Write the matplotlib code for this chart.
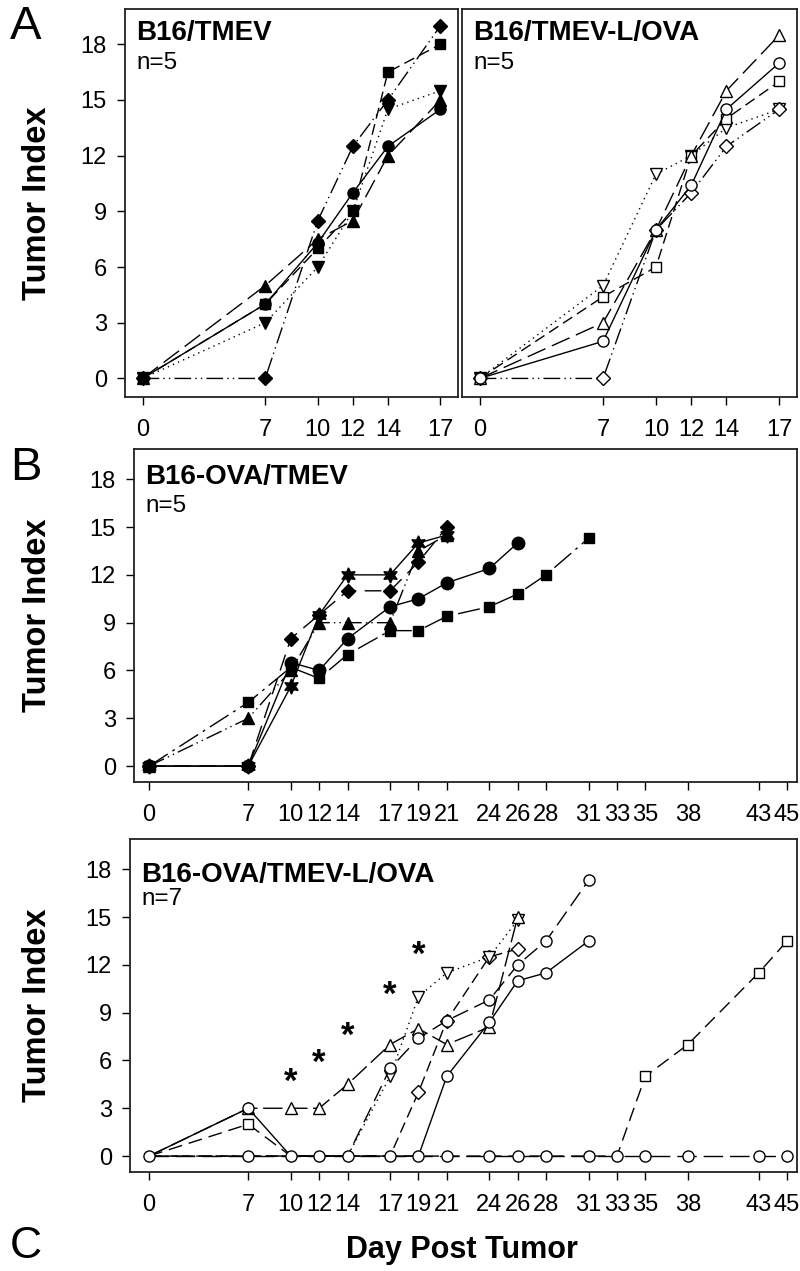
import matplotlib
matplotlib.use("Agg")
import matplotlib.pyplot as plt

plt.rcParams['font.family'] = ['Liberation Sans', 'DejaVu Sans']

# ---- data ----
days_a = [0, 7, 10, 12, 14, 17]
days_long = [0, 7, 10, 12, 14, 17, 19, 21, 24, 26, 28, 31, 33, 35, 38, 43, 45]
y_ticks = [0, 3, 6, 9, 12, 15, 18]

# A, B16/TMEV (filled symbols)
a_circle = [0, 4, 7.3, 10, 12.5, 14.5]
a_square = [0, 4, 7, 9, 16.5, 18]
a_diamond = [0, 0, 8.5, 12.5, 15, 19]
a_tri_up = [0, 5, 7.5, 8.5, 12, 15]
a_tri_down = [0, 3, 6, 9, 14.5, 15.5]

# A, B16/TMEV-L/OVA (open symbols)
r_circle = [0, 2, 8, 10.4, 14.5, 17]
r_square = [0, 4.4, 6, 12, 14, 16]
r_diamond = [0, 0, 8, 10, 12.5, 14.5]
r_tri_up = [0, 3, 8, 12, 15.5, 18.5]
r_tri_down = [0, 5, 11, 12, 13.5, 14.5]

# B, B16-OVA/TMEV (filled symbols)
b_square = [0, 4, 6.2, 5.5, 7, 8.5, 8.5, 9.4, 10, 10.8, 12, 14.3]
b_circle = [0, 0, 6.5, 6, 8, 10, 10.5, 11.5, 12.4, 14]
b_star = [0, 0, 5, 9.5, 12, 12, 14, 14.5]
b_triangle = [0, 3, 6, 9, 9, 9, 13.5, 14.5]
b_diamond = [0, 0, 8, 9.5, 11, 11, 12.8, 15]

# C, B16-OVA/TMEV-L/OVA (open symbols)
c_circle_flat = [0, 0, 0, 0, 0, 0, 0, 0, 0, 0, 0, 0, 0, 0, 0, 0, 0]
c_square = [0, 2, 0, 0, 0, 0, 0, 0, 0, 0, 0, 0, 0, 5, 7, 11.5, 13.5]
c_circle_a = [0, 3, 0, 0, 0, 0, 0, 5, 8.4, 11, 11.5, 13.5]
c_circle_b = [0, 0, 0, 0, 0, 5.5, 7.4, 8.5, 9.8, 12, 13.5, 17.3]
c_tri_up = [0, 3, 3, 3, 4.5, 7, 8, 7, 8.1, 15]
c_tri_down = [0, 0, 0, 0, 0, 5, 10, 11.5, 12.5, 14.8]
c_diamond = [0, 0, 0, 0, 0, 0, 4, 8.5, 12.5, 13]
star_days = [10, 12, 14, 17, 19]
star_y = [4.9, 6.1, 7.8, 10.4, 12.9]

# ---- layout ----
W, H = 800, 1271
fig = plt.figure(figsize=(W / 100, H / 100), dpi=100)


def px_axes(x0, y0, x1, y1):
    return fig.add_axes([x0 / W, 1 - y1 / H, (x1 - x0) / W, (y1 - y0) / H])


LONG = (0, (14, 5))
MED = (0, (8, 4))
DOT = (0, (1, 3))
DDOT = (0, (12, 3, 1, 3, 1, 3))
DDASH = (0, (16, 4, 2, 4))


def series(ax, days, vals, marker, ls, filled, ms=8, z=3, hide_zeros=False):
    every = None
    if hide_zeros:
        # zero points sit under the flat-line circles, keep only the rising ones
        every = [i for i, v in enumerate(vals) if v > 0]
    ax.plot(days[:len(vals)], vals, ls=ls, lw=1.0, color='black', marker=marker,
            ms=ms, mfc='black' if filled else 'white', mec='black', mew=1.0,
            zorder=z, clip_on=False, markevery=every)


def style(ax, xt, xlim, ylabels=True):
    ax.set_xlim(*xlim)
    ax.set_ylim(-1, 19.9)
    ax.set_xticks(xt)
    ax.set_yticks(y_ticks)
    ax.tick_params(axis='x', direction='out', length=6, width=1, labelsize=17, pad=10)
    ax.tick_params(axis='y', direction='out', length=6, width=1, labelsize=17, pad=7)
    if not ylabels:
        ax.tick_params(axis='y', left=False, labelleft=False)
    for s in ax.spines.values():
        s.set_linewidth(1.3)
        s.set_color('#222222')


def label(ax, title, n, t_off=-20, n_off=-41):
    ax.annotate(title, xy=(0, 1), xycoords='axes fraction', xytext=(8, t_off),
                textcoords='offset points', ha='left', va='center',
                fontsize=20, weight='bold')
    ax.annotate(n, xy=(0, 1), xycoords='axes fraction', xytext=(8, n_off),
                textcoords='offset points', ha='left', va='center', fontsize=17.5)


# Panel A left
ax1 = px_axes(125, 9, 458, 397)
series(ax1, days_a, a_tri_down, 'v', DOT, True)
series(ax1, days_a, a_tri_up, '^', LONG, True)
series(ax1, days_a, a_diamond, 'D', DDOT, True, ms=7)
series(ax1, days_a, a_square, 's', MED, True, ms=7)
series(ax1, days_a, a_circle, 'o', '-', True)
style(ax1, days_a, (-1, 18))
label(ax1, 'B16/TMEV', 'n=5', -17, -39)

# Panel A right
ax2 = px_axes(462, 9, 797, 397)
series(ax2, days_a, r_tri_down, 'v', DOT, False)
series(ax2, days_a, r_diamond, 'D', DDOT, False, ms=7)
series(ax2, days_a, r_square, 's', MED, False, ms=7)
series(ax2, days_a, r_tri_up, '^', LONG, False)
series(ax2, days_a, r_circle, 'o', '-', False)
style(ax2, days_a, (-1, 18), ylabels=False)
label(ax2, 'B16/TMEV-L/OVA', 'n=5', -17, -39)

# Panel B
ax3 = px_axes(134, 449, 797, 782)
series(ax3, days_long, b_square, 's', DDASH, True, ms=7)
series(ax3, days_long, b_triangle, '^', DDOT, True)
series(ax3, days_long, b_diamond, 'D', (0, (12, 6)), True, ms=7)
series(ax3, days_long, b_star, (6, 1, 0), '-', True, ms=11)
series(ax3, days_long, b_circle, 'o', '-', True, ms=9)
style(ax3, days_long, (-1.06, 45.7))
label(ax3, 'B16-OVA/TMEV', 'n=5')

# Panel C
ax4 = px_axes(130, 839, 797, 1172)
series(ax4, days_long, c_square, 's', (0, (10, 5)), False, ms=7, hide_zeros=True)
series(ax4, days_long, c_diamond, 'D', MED, False, ms=7, hide_zeros=True)
series(ax4, days_long, c_tri_down, 'v', DOT, False, hide_zeros=True)
series(ax4, days_long, c_tri_up, '^', (0, (14, 4)), False, hide_zeros=True)
series(ax4, days_long, c_circle_b, 'o', (0, (12, 5)), False, hide_zeros=True)
series(ax4, days_long, c_circle_a, 'o', '-', False, hide_zeros=True)
series(ax4, days_long, c_circle_flat, 'o', LONG, False, z=4)
for d, y in zip(star_days, star_y):
    ax4.text(d, y - 0.3, '*', ha='center', va='center', fontsize=25, weight='bold')
style(ax4, days_long, (-1.34, 45.7))
label(ax4, 'B16-OVA/TMEV-L/OVA', 'n=7', -26, -43)

# y labels and panel letters
for ax in (ax1, ax3, ax4):
    b = ax.get_position()
    fig.text(38 / W, b.y0 + b.height / 2, 'Tumor Index', rotation=90,
             ha='center', va='center', fontsize=23.5, weight='bold')

fig.text(26 / W, 1 - 27 / H, 'A', ha='center', va='center', fontsize=34)
fig.text(26 / W, 1 - 468 / H, 'B', ha='center', va='center', fontsize=34)
fig.text(26 / W, 1 - 1247 / H, 'C', ha='center', va='center', fontsize=32)
fig.text(462 / W, 1 - 1250 / H, 'Day Post Tumor', ha='center', va='center',
         fontsize=22, weight='bold')

fig.savefig('out.png', dpi=100)
